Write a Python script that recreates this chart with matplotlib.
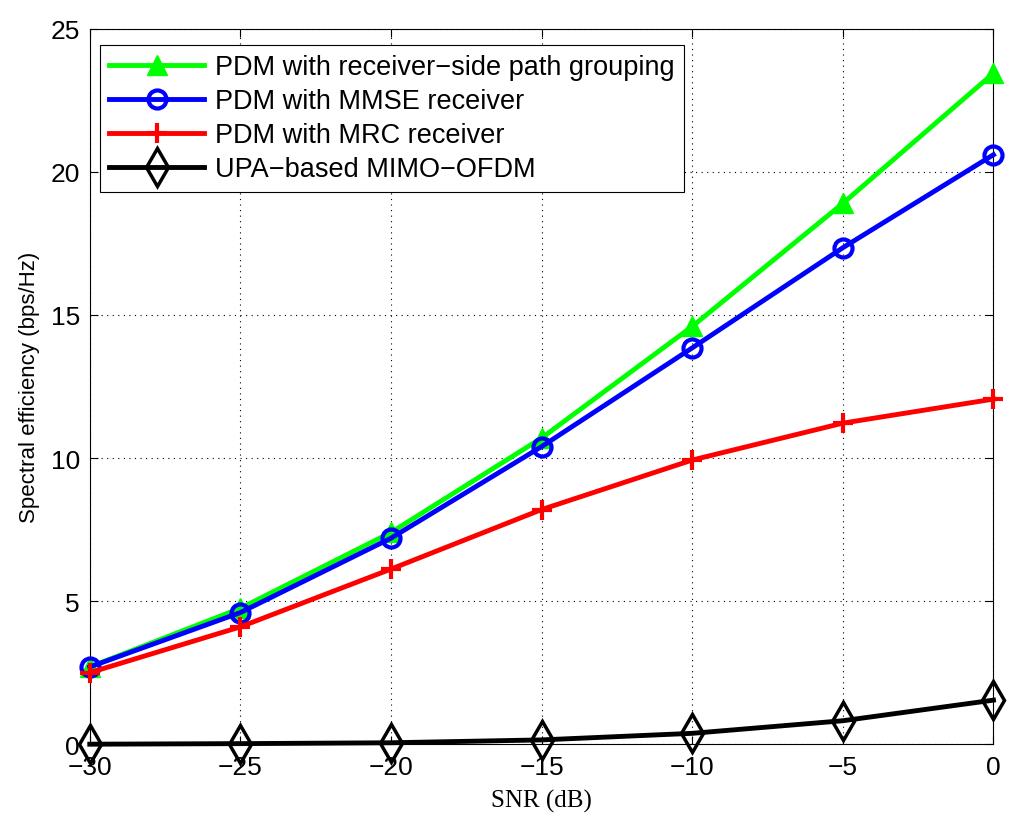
import matplotlib
matplotlib.use('Agg')
import matplotlib.pyplot as plt

snr = [-30, -25, -20, -15, -10, -5, 0]
grouping = [2.7, 4.75, 7.4, 10.7, 14.6, 18.9, 23.45]
mmse = [2.7, 4.6, 7.2, 10.4, 13.85, 17.35, 20.6]
mrc = [2.5, 4.1, 6.12, 8.2, 9.93, 11.22, 12.06]
upa = [0.0, 0.02, 0.05, 0.15, 0.38, 0.82, 1.54]

labels = ['PDM with receiver\u2212side path grouping', 'PDM with MMSE receiver',
          'PDM with MRC receiver', 'UPA\u2212based MIMO\u2212OFDM']
xticks = [-30, -25, -20, -15, -10, -5, 0]
yticks = [0, 5, 10, 15, 20, 25]

plt.rcParams['font.family'] = ['Liberation Sans', 'DejaVu Sans']

fig = plt.figure(figsize=(10.2, 8.28), dpi=100)
ax = fig.add_axes([0.088, 0.100, 0.886, 0.864])

ax.plot(snr, grouping, color='#00ff00', lw=3.5, marker='^', ms=15, mfc='#00ff00',
        label=labels[0], clip_on=False, zorder=5)
ax.plot(snr, mmse, color='blue', lw=3.5, marker='o', ms=13, mfc='none', mew=3,
        label=labels[1], clip_on=False, zorder=5)
ax.plot(snr, mrc, color='red', lw=3.5, marker='+', ms=14, mew=3,
        label=labels[2], clip_on=False, zorder=5)
ax.plot(snr, upa, color='black', lw=3.5, marker='d', ms=19, mfc='none', mew=2.5,
        label=labels[3], clip_on=False, zorder=5)

ax.set_xlim(-30, 0)
ax.set_ylim(0, 25)
ax.set_xticks(xticks)
ax.set_yticks(yticks)
ax.set_xticklabels(['\u221230', '\u221225', '\u221220', '\u221215', '\u221210', '\u22125', '0'])
ax.tick_params(direction='in', top=True, right=True, labelsize=19, length=6)
ax.tick_params(axis='x', pad=8)
ax.tick_params(axis='y', pad=7)
ax.grid(True, linestyle=(0, (1, 4)), color='black', lw=0.8)
for s in ax.spines.values():
    s.set_linewidth(0.8)

ax.set_xlabel('SNR (dB)', family='Liberation Serif', fontsize=18, labelpad=7)
ax.set_ylabel('Spectral efficiency (bps/Hz)', fontsize=16, labelpad=8)

leg = ax.legend(loc='upper left', bbox_to_anchor=(0.011, 0.978), fontsize=19.5, fancybox=False,
                framealpha=1, edgecolor='black', handlelength=3.5, borderpad=0.35,
                labelspacing=0.3, handletextpad=0.4, borderaxespad=0)
leg.get_frame().set_linewidth(0.8)

fig.savefig('out.png', dpi=100)
